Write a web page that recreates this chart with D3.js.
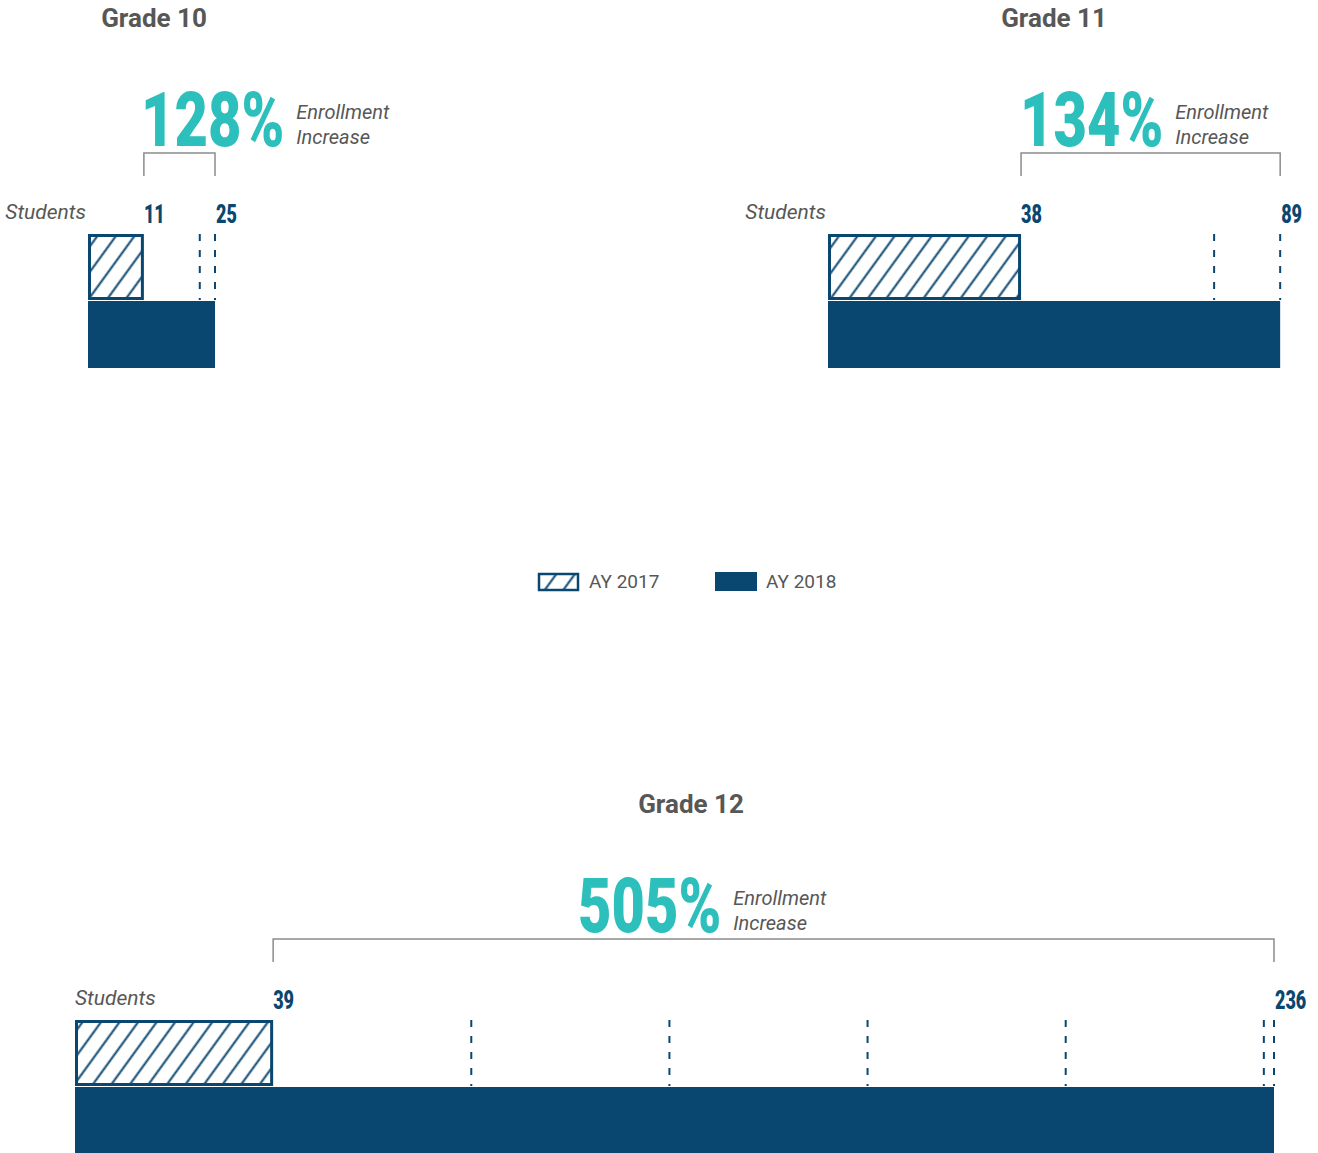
<!DOCTYPE html>
<html>
<head>
<meta charset="utf-8">
<script src="https://cdn.jsdelivr.net/npm/d3@7"></script>
<style>
  body { margin: 0; background: #fff; }
  svg { display: block; }
</style>
</head>
<body>
<svg id="chart" width="1318" height="1153"></svg>
<script>
// data
var grades = ["Grade 10", "Grade 11", "Grade 12"];
var ay2017 = [11, 38, 39];
var ay2018 = [25, 89, 236];
var increaseLabels = ["128%", "134%", "505%"];
var legendLabels = ["AY 2017", "AY 2018"];

// layout per panel (left edge of bars, top of bars, title centre, % label left)
var panelX = [88, 828, 75];
var panelTop = [234, 234, 1020];
var titleX = [154, 1054, 691];
var pctX = [141, 1020, 578];
var studentsAnchor = ["end", "end", "start"];

var blue = "#0a4770", teal = "#2dbfbb", grey = "#575757", bracketGrey = "#8c8c8c";
var bandH = 66;

var svg = d3.select("#chart");

// shared scale: students -> px
var x = d3.scaleLinear().domain([0, 236]).range([0, 1199]);

var defs = svg.append("defs");
var pat = defs.append("pattern")
  .attr("id", "hatch")
  .attr("patternUnits", "userSpaceOnUse")
  .attr("width", 15).attr("height", 15)
  .attr("patternTransform", "rotate(36)");
pat.append("rect").attr("width", 15).attr("height", 15).attr("fill", "#fff");
pat.append("line").attr("x1", 7.5).attr("y1", 0).attr("x2", 7.5).attr("y2", 15)
  .attr("stroke", blue).attr("stroke-width", 2);

// text squeezed horizontally to mimic a condensed face
function condensed(g, txt, tx, ty, size, color, sx){
  return g.append("text")
    .attr("transform", "translate(" + tx + "," + ty + ") scale(" + sx + ",1)")
    .attr("font-family", "Roboto, sans-serif")
    .attr("font-weight", 900)
    .attr("font-size", size)
    .attr("fill", color)
    .text(txt);
}

grades.forEach(function(name, i){
  var g = svg.append("g");
  var x0 = panelX[i], top = panelTop[i];
  var x17 = x0 + x(ay2017[i]), x18 = x0 + x(ay2018[i]);

  // title
  g.append("text")
    .attr("x", titleX[i]).attr("y", top - 207)
    .attr("text-anchor", "middle")
    .attr("font-family", "Roboto, sans-serif")
    .attr("font-weight", 700)
    .attr("font-size", 26)
    .attr("fill", grey)
    .text(name);

  // big percentage + caption
  var pct = condensed(g, increaseLabels[i], pctX[i], top - 88, 76, teal, 0.76);
  var pctW = pct.node().getComputedTextLength() * 0.76;
  var cap = g.append("text")
    .attr("font-family", "Roboto, sans-serif")
    .attr("font-style", "italic")
    .attr("font-size", 20)
    .attr("fill", grey);
  cap.append("tspan").attr("x", pctX[i] + pctW + 12).attr("y", top - 115).text("Enrollment");
  cap.append("tspan").attr("x", pctX[i] + pctW + 12).attr("y", top - 90).text("Increase");

  // bracket between the two values
  g.append("path")
    .attr("d", "M" + x17 + "," + (top - 58) + "V" + (top - 81) + "H" + x18 + "V" + (top - 58))
    .attr("fill", "none")
    .attr("stroke", bracketGrey)
    .attr("stroke-width", 1.5);

  // students label
  g.append("text")
    .attr("x", studentsAnchor[i] === "end" ? x0 - 2 : x0)
    .attr("y", top - 15)
    .attr("text-anchor", studentsAnchor[i])
    .attr("font-family", "Roboto, sans-serif")
    .attr("font-style", "italic")
    .attr("font-size", 21)
    .attr("fill", grey)
    .text("Students");

  // value labels
  condensed(g, ay2017[i], x17, top - 11, 25, blue, 0.72);
  condensed(g, ay2018[i], x18 + 1, top - 11, 25, blue, 0.72);

  // dashed markers at multiples of the 2017 value, and at the 2018 value
  var marks = [];
  for (var k = 2; k * ay2017[i] <= ay2018[i]; k++) marks.push(k * ay2017[i]);
  marks.push(ay2018[i]);
  g.selectAll("line.mult").data(marks).enter().append("line")
    .attr("class", "mult")
    .attr("x1", function(d){ return x0 + x(d); })
    .attr("x2", function(d){ return x0 + x(d); })
    .attr("y1", top).attr("y2", top + bandH)
    .attr("stroke", blue)
    .attr("stroke-width", 2)
    .attr("stroke-dasharray", "7,9");

  // AY 2018 solid bar
  g.append("rect")
    .attr("x", x0).attr("y", top + bandH + 1)
    .attr("width", x(ay2018[i])).attr("height", bandH + 1)
    .attr("fill", blue);

  // AY 2017 hatched bar
  g.append("rect")
    .attr("x", x0 + 1.5).attr("y", top + 1.5)
    .attr("width", x(ay2017[i]) - 3).attr("height", bandH - 3)
    .attr("fill", "url(#hatch)")
    .attr("stroke", blue)
    .attr("stroke-width", 3);
});

// legend
var lg = svg.append("g");
lg.append("rect").attr("x", 539).attr("y", 574).attr("width", 39).attr("height", 16)
  .attr("fill", "url(#hatch)").attr("stroke", blue).attr("stroke-width", 2.5);
lg.append("rect").attr("x", 715).attr("y", 572).attr("width", 42).attr("height", 19)
  .attr("fill", blue);
lg.selectAll("text").data(legendLabels).enter().append("text")
  .attr("x", function(d, i){ return i === 0 ? 589 : 766; })
  .attr("y", 588)
  .attr("font-family", "Roboto, sans-serif")
  .attr("font-size", 19)
  .attr("fill", grey)
  .text(function(d){ return d; });
</script>
</body>
</html>
